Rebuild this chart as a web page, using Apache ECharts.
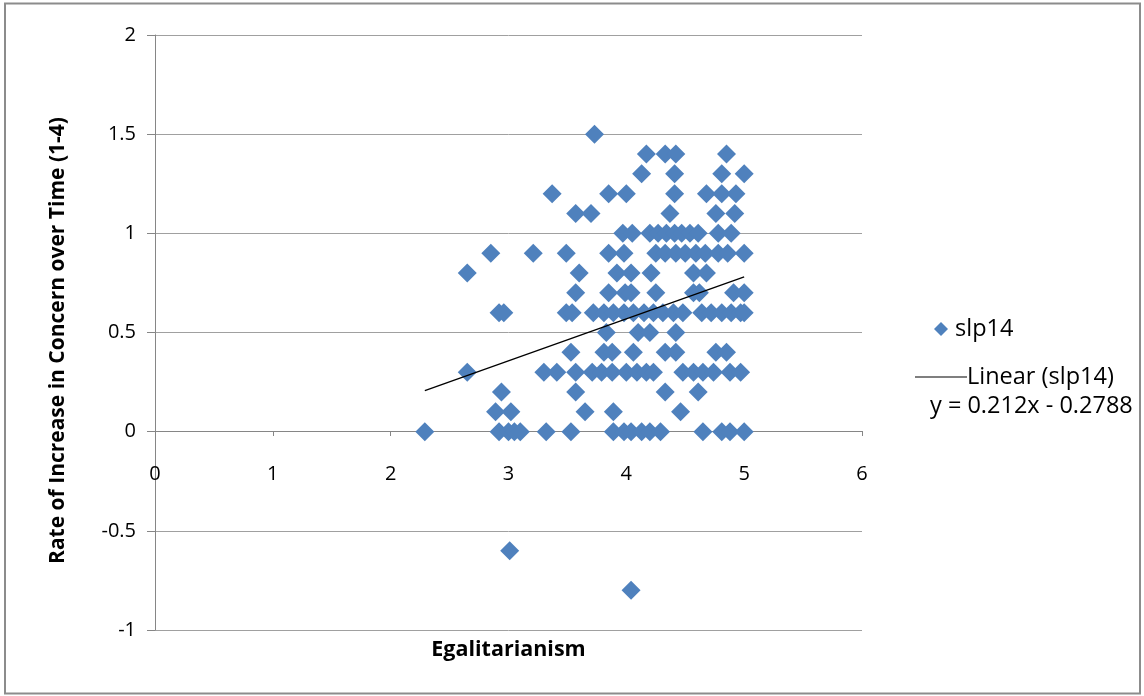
<!DOCTYPE html>
<html>
<head>
<meta charset="utf-8">
<script src="https://cdn.jsdelivr.net/npm/echarts@6/dist/echarts.min.js"></script>
<style>
html,body{margin:0;padding:0;background:#fff;}
#chart{width:1144px;height:696px;}
</style>
</head>
<body>
<div id="chart"></div>
<script>
// Egalitarianism (x) and Rate of Increase in Concern over Time (y), read row by row
const egalitarianism = [
  3.73,                                   // 1.5
  4.17, 4.33, 4.42, 4.85,                 // 1.4
  4.13, 4.41, 4.81, 5.0,                  // 1.3
  3.37, 3.85, 4.0, 4.41, 4.68, 4.81, 4.93, // 1.2
  3.57, 3.7, 4.37, 4.76, 4.92,            // 1.1
  3.97, 4.05, 4.2, 4.27, 4.34, 4.41, 4.47, 4.54, 4.61, 4.78, 4.89, // 1.0
  2.85, 3.21, 3.49, 3.85, 3.98, 4.25, 4.33, 4.42, 4.5, 4.59, 4.67, 4.78, 4.86, 5.0, // 0.9
  2.65, 3.6, 3.92, 4.04, 4.21, 4.57, 4.68, // 0.8
  3.57, 3.85, 3.99, 4.04, 4.25, 4.57, 4.62, 4.91, 5.0, // 0.7
  2.92, 2.96, 3.49, 3.54, 3.72, 3.81, 3.89, 3.98, 4.06, 4.15, 4.23, 4.31, 4.4, 4.48, 4.64, 4.72, 4.81, 4.89, 4.97, 5.0, // 0.6
  3.83, 4.1, 4.2, 4.42,                   // 0.5
  3.53, 3.81, 3.88, 4.06, 4.33, 4.42, 4.76, 4.85, // 0.4
  2.65, 3.3, 3.41, 3.57, 3.71, 3.79, 3.88, 4.0, 4.09, 4.17, 4.23, 4.48, 4.57, 4.65, 4.74, 4.88, 4.97, // 0.3
  2.94, 3.57, 4.33, 4.61,                 // 0.2
  2.89, 3.02, 3.65, 3.89, 4.46,           // 0.1
  2.29, 2.92, 3.0, 3.05, 3.1, 3.32, 3.53, 3.89, 3.98, 4.04, 4.13, 4.2, 4.29, 4.65, 4.81, 4.88, 5.0, // 0
  3.01,                                   // -0.6
  4.04                                    // -0.8
];
const rateOfIncrease = [
  1.5,
  1.4, 1.4, 1.4, 1.4,
  1.3, 1.3, 1.3, 1.3,
  1.2, 1.2, 1.2, 1.2, 1.2, 1.2, 1.2,
  1.1, 1.1, 1.1, 1.1, 1.1,
  1.0, 1.0, 1.0, 1.0, 1.0, 1.0, 1.0, 1.0, 1.0, 1.0, 1.0,
  0.9, 0.9, 0.9, 0.9, 0.9, 0.9, 0.9, 0.9, 0.9, 0.9, 0.9, 0.9, 0.9, 0.9,
  0.8, 0.8, 0.8, 0.8, 0.8, 0.8, 0.8,
  0.7, 0.7, 0.7, 0.7, 0.7, 0.7, 0.7, 0.7, 0.7,
  0.6, 0.6, 0.6, 0.6, 0.6, 0.6, 0.6, 0.6, 0.6, 0.6, 0.6, 0.6, 0.6, 0.6, 0.6, 0.6, 0.6, 0.6, 0.6, 0.6,
  0.5, 0.5, 0.5, 0.5,
  0.4, 0.4, 0.4, 0.4, 0.4, 0.4, 0.4, 0.4,
  0.3, 0.3, 0.3, 0.3, 0.3, 0.3, 0.3, 0.3, 0.3, 0.3, 0.3, 0.3, 0.3, 0.3, 0.3, 0.3, 0.3,
  0.2, 0.2, 0.2, 0.2,
  0.1, 0.1, 0.1, 0.1, 0.1,
  0, 0, 0, 0, 0, 0, 0, 0, 0, 0, 0, 0, 0, 0, 0, 0, 0,
  -0.6,
  -0.8
];
// Linear trend line endpoints (as drawn)
const trendX = [2.29, 5.0];
const trendY = [0.207, 0.781];
const trendEquation = 'y = 0.212x - 0.2788';
// Axis ticks
const xTicks = [0, 1, 2, 3, 4, 5, 6];
const yTicks = [-1, -0.5, 0, 0.5, 1, 1.5, 2];

const FONT = 'Open Sans';
const scatterData = egalitarianism.map((x, i) => [x, rateOfIncrease[i]]);
const trendData = trendX.map((x, i) => [x, trendY[i]]);

const chart = echarts.init(document.getElementById('chart'), null, {renderer: 'canvas'});
chart.setOption({
  backgroundColor: '#ffffff',
  animation: false,
  textStyle: {fontFamily: FONT},
  grid: {left: 155, right: 282, top: 35, bottom: 66, containLabel: false, outerBoundsMode: 'none'},
  xAxis: {
    type: 'value',
    min: xTicks[0], max: xTicks[xTicks.length - 1], interval: 1,
    position: 'bottom',
    offset: -199,
    name: 'Egalitarianism',
    nameLocation: 'middle',
    nameGap: 208,
    nameTextStyle: {fontFamily: FONT, fontWeight: 'bold', fontSize: 21.5, color: '#000'},
    axisLine: {show: true, onZero: false, lineStyle: {color: '#868686', width: 1}},
    axisTick: {show: true, length: 5, lineStyle: {color: '#868686'}},
    axisLabel: {margin: 33, fontSize: 20, color: '#000', fontFamily: FONT},
    splitLine: {show: false}
  },
  yAxis: {
    type: 'value',
    min: yTicks[0], max: yTicks[yTicks.length - 1], interval: 0.5,
    name: 'Rate of Increase in Concern over Time (1-4)',
    nameLocation: 'middle',
    nameGap: 86,
    nameRotate: 90,
    nameTextStyle: {fontFamily: FONT, fontWeight: 'bold', fontSize: 21, color: '#000', padding: [0, 16, 0, 0]},
    axisLine: {show: true, onZero: false, lineStyle: {color: '#868686', width: 1}},
    axisTick: {show: true, length: 8, lineStyle: {color: '#868686'}},
    axisLabel: {margin: 19, fontSize: 20, color: '#000', fontFamily: FONT},
    splitLine: {show: true, lineStyle: {color: '#a0a0a0', width: 1}}
  },
  legend: [
    {
      data: [{name: 'slp14', icon: 'diamond'}],
      orient: 'vertical',
      left: 929, top: 312,
      itemWidth: 14, itemHeight: 14, itemGap: 10,
      textStyle: {fontFamily: FONT, fontSize: 23.5, color: '#000', padding: [0, 0, 0, 2]},
      selectedMode: false
    },
    {
      data: [{name: 'Linear (slp14)', icon: 'rect'}],
      orient: 'vertical',
      left: 910, top: 360,
      itemWidth: 52, itemHeight: 1.2, itemGap: 10,
      textStyle: {fontFamily: FONT, fontSize: 23.5, color: '#000', padding: [0, 0, 0, -5]},
      selectedMode: false
    }
  ],
  graphic: [
    {
      type: 'rect',
      shape: {x: 5, y: 3.5, width: 1135, height: 690},
      style: {fill: 'none', stroke: '#8c8c8c', lineWidth: 2},
      silent: true, z: 100
    },
    {
      type: 'text',
      left: 930, top: 394,
      style: {text: trendEquation, fontFamily: FONT, fontSize: 23.5, fill: '#000'}
    }
  ],
  series: [
    {
      name: 'slp14',
      type: 'scatter',
      data: scatterData,
      symbol: 'diamond',
      symbolSize: 19,
      itemStyle: {color: '#4f81bd', opacity: 1},
      z: 2
    },
    {
      name: 'Linear (slp14)',
      type: 'line',
      data: trendData,
      showSymbol: false,
      symbol: 'none',
      lineStyle: {color: '#000', width: 1.3},
      itemStyle: {color: '#000'},
      z: 3
    }
  ]
});
</script>
</body>
</html>
